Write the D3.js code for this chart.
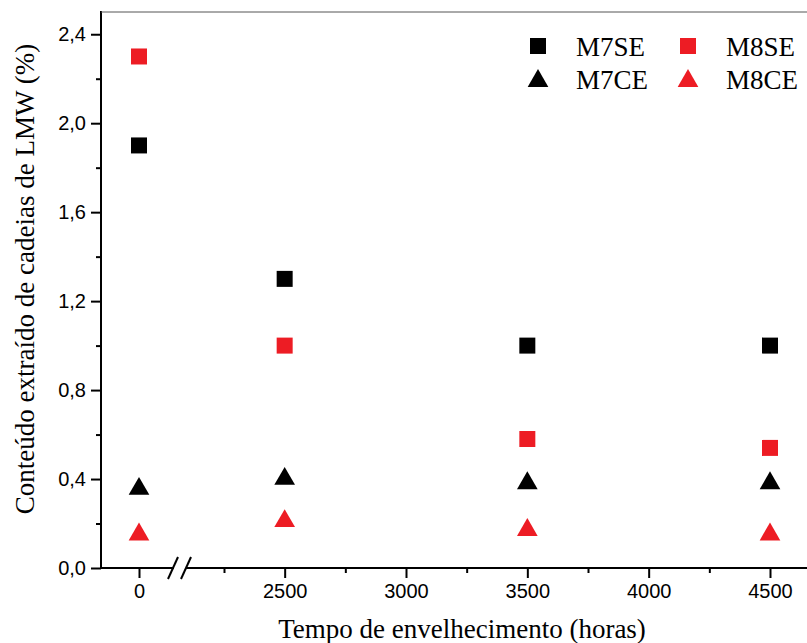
<!DOCTYPE html>
<html>
<head>
<meta charset="utf-8">
<script src="https://cdn.jsdelivr.net/npm/d3@7"></script>
<style>
  body { margin: 0; background: #fff; }
  svg { display: block; }
  .tick text { font-family: "Liberation Sans", Arial, sans-serif; font-size: 20px; fill: #000; }
  .ttl { font-family: "Liberation Serif", "Times New Roman", serif; font-size: 27px; fill: #000; }
</style>
</head>
<body>
<svg id="chart" width="807" height="643"></svg>
<script>
// aging time (hours)
const hours = [0, 2500, 3500, 4500];
const seriesNames = ['M7SE', 'M8SE', 'M7CE', 'M8CE'];
const m7se = [1.9, 1.3, 1.0, 1.0];
const m8se = [2.3, 1.0, 0.58, 0.54];
const m7ce = [0.365, 0.41, 0.39, 0.39];
const m8ce = [0.16, 0.22, 0.18, 0.16];
const yTicks = [0, 0.4, 0.8, 1.2, 1.6, 2.0, 2.4];
const xTicks = [0, 2500, 3000, 3500, 4000, 4500];

const black = '#000000', red = '#ed1c24';
const series = [
  {name: seriesNames[0], values: m7se, shape: 'square', color: black},
  {name: seriesNames[1], values: m8se, shape: 'square', color: red},
  {name: seriesNames[2], values: m7ce, shape: 'triangle', color: black},
  {name: seriesNames[3], values: m8ce, shape: 'triangle', color: red}
];

const svg = d3.select('#chart');
const mLeft = 101, mTop = 12, mBottom = 568, mRight = 807;

// broken axis: 0 .. break .. 2250 .. 4500
let x = d3.scaleLinear().domain([-157, 0, 2250, 4500]).range([mLeft, 139, 224, 770]);
let y = d3.scaleLinear().domain([0, 2.5]).range([mBottom, mTop]);

let fmt = d => d3.format('.1f')(d).replace('.', ',');

// y axis
let yAxis = svg.append('g').attr('transform', `translate(${mLeft},0)`)
  .call(d3.axisLeft(y).tickValues(yTicks).tickFormat(fmt).tickSize(10).tickPadding(5));
yAxis.select('.domain').remove();
svg.append('g').attr('transform', `translate(${mLeft},0)`)
  .call(d3.axisLeft(y).tickValues(d3.range(0.2, 2.5, 0.4)).tickFormat('').tickSize(5))
  .select('.domain').remove();
svg.append('line').attr('x1', mLeft).attr('x2', mLeft).attr('y1', mTop - 1).attr('y2', mBottom + 1)
  .attr('stroke', '#000').attr('stroke-width', 2);

// top frame line
svg.append('line').attr('x1', mLeft).attr('x2', mRight).attr('y1', mTop).attr('y2', mTop)
  .attr('stroke', '#555').attr('stroke-width', 1);

// x axis
let xAxis = svg.append('g').attr('transform', `translate(0,${mBottom})`)
  .call(d3.axisBottom(x).tickValues(xTicks).tickFormat(d3.format('d')).tickSize(10).tickPadding(6));
xAxis.select('.domain').remove();
svg.append('g').attr('transform', `translate(0,${mBottom})`)
  .call(d3.axisBottom(x).tickValues([2250, 2750, 3250, 3750, 4250]).tickFormat('').tickSize(5))
  .select('.domain').remove();
svg.selectAll('.tick line').attr('stroke-width', 2);

svg.append('line').attr('x1', mLeft - 1).attr('x2', 174).attr('y1', mBottom).attr('y2', mBottom)
  .attr('stroke', '#000').attr('stroke-width', 2);
svg.append('line').attr('x1', 186).attr('x2', mRight).attr('y1', mBottom).attr('y2', mBottom)
  .attr('stroke', '#000').attr('stroke-width', 2);
// break marks
[0, 13].forEach(dx => {
  svg.append('line').attr('x1', 168 + dx).attr('y1', 579).attr('x2', 178 + dx).attr('y2', 557)
    .attr('stroke', '#000').attr('stroke-width', 2);
});

// markers
let sq = d3.symbol().type(d3.symbolSquare).size(16 * 16);
let tri = d3.symbol().type(d3.symbolTriangle).size(185);

series.forEach(s => {
  svg.append('g').selectAll('path')
    .data(s.values)
    .enter()
    .append('path')
    .attr('d', s.shape === 'square' ? sq() : tri())
    .attr('fill', s.color)
    .attr('transform', (d, i) => `translate(${x(hours[i])},${y(d) + (s.shape === 'square' ? 0 : 2)})`);
});

// legend
let legend = svg.selectAll('.legend')
  .data(series)
  .enter()
  .append('g')
  .attr('class', 'legend')
  .attr('transform', (d, i) => `translate(${538 + (i % 2) * 150},${46 + Math.floor(i / 2) * 33})`);
legend.append('path')
  .attr('d', d => d.shape === 'square' ? sq() : tri())
  .attr('transform', d => d.shape === 'square' ? null : 'translate(0,2)')
  .attr('fill', d => d.color);
legend.append('text')
  .attr('class', 'ttl')
  .attr('x', 38)
  .attr('y', 10)
  .text(d => d.name);

// titles
svg.append('text').attr('class', 'ttl')
  .attr('text-anchor', 'middle')
  .attr('x', 462).attr('y', 638)
  .text('Tempo de envelhecimento (horas)');
svg.append('text').attr('class', 'ttl')
  .attr('text-anchor', 'middle')
  .attr('transform', 'translate(34,279) rotate(-90)')
  .text('Conteúdo extraído de cadeias de LMW (%)');
</script>
</body>
</html>
